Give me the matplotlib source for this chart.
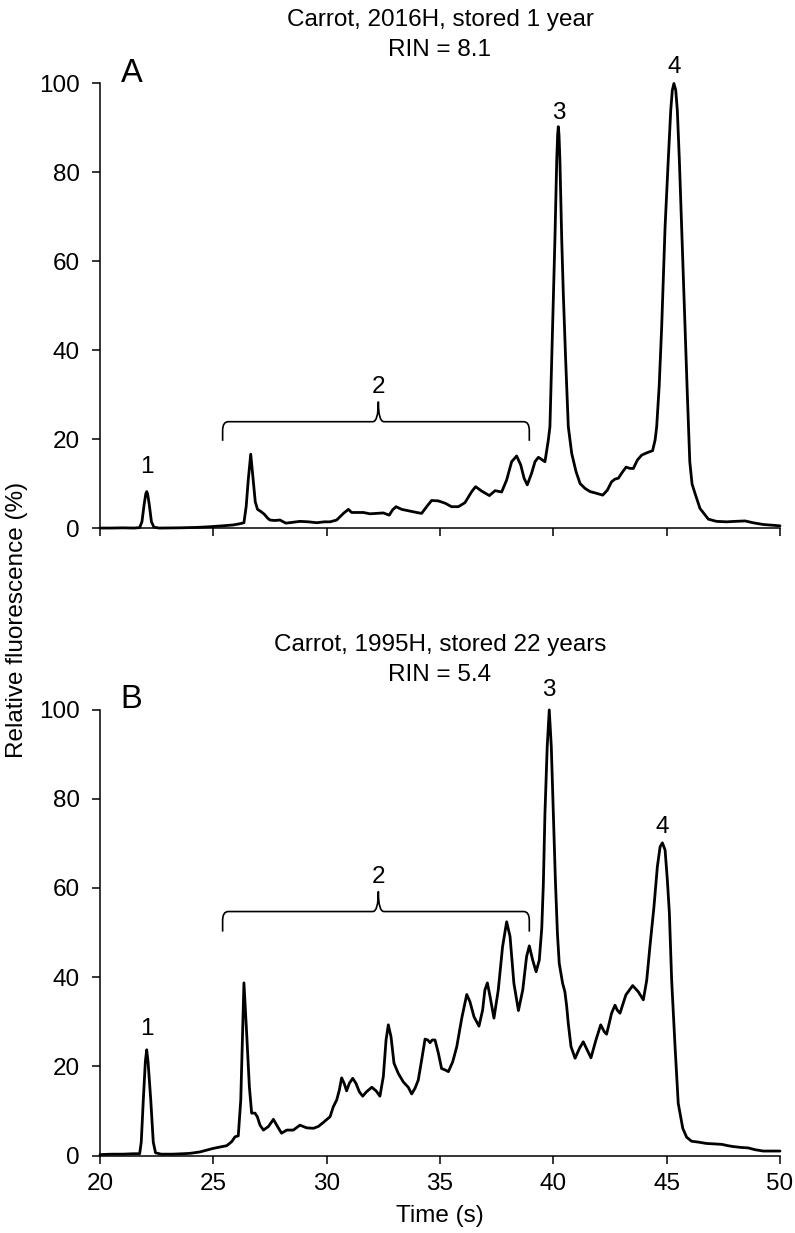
import matplotlib.pyplot as plt
from matplotlib.path import Path
from matplotlib.patches import PathPatch

plt.rcParams['font.family'] = ['Liberation Sans', 'DejaVu Sans']

# Panel A: carrot 2016H, stored 1 year (time in s, fluorescence in %)
time_a = [20.0, 20.5, 21.0, 21.5, 21.75, 21.85, 21.95, 22.02, 22.06, 22.1,
          22.17, 22.27, 22.38, 22.6, 23.5, 24.3, 24.85, 25.4, 25.88, 26.2,
          26.35, 26.45, 26.54, 26.65, 26.76, 26.85, 26.95, 27.1, 27.25, 27.4,
          27.5, 27.7, 27.94, 28.2, 28.5, 28.82, 29.2, 29.56, 29.9, 30.15,
          30.44, 30.74, 30.96, 31.1, 31.32, 31.62, 31.91, 32.21, 32.5, 32.76,
          32.91, 33.06, 33.31, 33.68, 33.97, 34.19, 34.41, 34.63, 34.93, 35.22,
          35.51, 35.81, 36.1, 36.4, 36.57, 36.84, 37.18, 37.43, 37.72, 37.94,
          38.16, 38.38, 38.56, 38.71, 38.85, 39.04, 39.19, 39.34, 39.49, 39.63,
          39.78, 39.85, 39.93, 40.0, 40.07, 40.15, 40.19, 40.22, 40.25, 40.29,
          40.37, 40.44, 40.54, 40.66, 40.81, 41.0, 41.18, 41.4, 41.62, 41.91,
          42.18, 42.38, 42.57, 42.72, 42.87, 43.01, 43.21, 43.38, 43.53, 43.71,
          43.9, 44.12, 44.38, 44.49, 44.56, 44.67, 44.78, 44.93, 45.07, 45.18,
          45.25, 45.32, 45.4, 45.47, 45.56, 45.66, 45.81, 45.91, 46.02, 46.12,
          46.25, 46.47, 46.84, 47.2, 47.65, 48.0, 48.46, 48.8, 49.26, 50.0]
signal_a = [0.1, 0.1, 0.15, 0.1, 0.2, 1.5, 5.5, 7.8, 8.3, 7.8,
            5.5, 1.5, 0.3, 0.1, 0.15, 0.25, 0.4, 0.6, 0.8, 1.1,
            1.3, 5.0, 10.9, 16.7, 10.9, 6.0, 4.3, 3.8, 3.2, 2.3,
            1.9, 1.8, 1.9, 1.2, 1.4, 1.6, 1.5, 1.3, 1.5, 1.5,
            1.9, 3.4, 4.3, 3.6, 3.6, 3.6, 3.3, 3.4, 3.5, 3.0,
            4.2, 4.9, 4.3, 3.9, 3.6, 3.4, 4.9, 6.3, 6.2, 5.7,
            4.9, 4.9, 5.8, 8.3, 9.4, 8.4, 7.4, 8.5, 8.2, 10.9,
            15.0, 16.3, 14.3, 11.3, 9.8, 12.4, 15.0, 16.0, 15.5, 15.0,
            19.9, 22.9, 38.4, 52.8, 65.0, 82.8, 88.5, 90.3, 88.5, 82.8,
            65.0, 52.8, 38.4, 22.9, 16.9, 12.8, 10.1, 9.0, 8.3, 7.9,
            7.5, 8.6, 10.5, 11.1, 11.3, 12.4, 13.8, 13.5, 13.5, 15.4,
            16.5, 17.0, 17.5, 19.9, 22.9, 32.0, 45.3, 67.8, 82.8, 94.0,
            98.5, 100.0, 98.5, 94.0, 82.8, 67.8, 45.3, 30.4, 15.0, 10.0,
            7.9, 4.5, 2.1, 1.6, 1.5, 1.6, 1.7, 1.3, 0.9, 0.6]

# Panel B: carrot 1995H, stored 22 years
time_b = [20.0, 20.5, 21.0, 21.5, 21.75, 21.82, 21.91, 22.0, 22.06, 22.12,
          22.24, 22.35, 22.45, 22.7, 23.2, 23.68, 24.0, 24.41, 24.7, 25.0,
          25.3, 25.59, 25.81, 25.96, 26.1, 26.21, 26.29, 26.35, 26.47, 26.59,
          26.69, 26.84, 26.94, 27.06, 27.21, 27.43, 27.65, 27.82, 28.01, 28.24,
          28.53, 28.82, 29.12, 29.41, 29.63, 29.85, 30.15, 30.29, 30.44, 30.56,
          30.66, 30.77, 30.88, 31.0, 31.15, 31.29, 31.44, 31.59, 31.76, 31.99,
          32.18, 32.35, 32.5, 32.62, 32.72, 32.84, 32.97, 33.16, 33.38, 33.6,
          33.75, 33.9, 34.04, 34.19, 34.34, 34.46, 34.56, 34.66, 34.78, 34.93,
          35.07, 35.22, 35.37, 35.56, 35.74, 35.96, 36.18, 36.32, 36.5, 36.72,
          36.88, 36.98, 37.09, 37.21, 37.38, 37.57, 37.76, 37.94, 38.09, 38.26,
          38.46, 38.65, 38.82, 38.94, 39.09, 39.24, 39.38, 39.49, 39.56, 39.63,
          39.73, 39.82, 39.91, 40.0, 40.09, 40.18, 40.26, 40.41, 40.51, 40.59,
          40.66, 40.78, 40.96, 41.15, 41.32, 41.5, 41.66, 41.88, 42.09, 42.24,
          42.35, 42.57, 42.72, 42.82, 42.94, 43.2, 43.5, 43.75, 43.97, 44.12,
          44.26, 44.44, 44.59, 44.71, 44.81, 44.93, 45.03, 45.12, 45.22, 45.37,
          45.51, 45.71, 45.88, 46.1, 46.4, 46.76, 47.1, 47.43, 47.7, 47.94,
          48.3, 48.6, 48.9, 49.26, 49.6, 50.0]
signal_b = [0.2, 0.3, 0.3, 0.4, 0.4, 3.0, 12.4, 21.0, 23.7, 21.0,
            12.4, 3.0, 0.6, 0.3, 0.3, 0.4, 0.5, 0.8, 1.2, 1.6,
            1.9, 2.2, 3.1, 4.2, 4.4, 12.4, 27.4, 38.7, 27.4, 15.4,
            9.5, 9.5, 8.7, 6.8, 5.7, 6.5, 8.1, 6.6, 5.0, 5.7,
            5.7, 6.8, 6.2, 6.1, 6.5, 7.4, 8.7, 10.9, 12.4, 14.7,
            17.4, 16.2, 14.5, 16.2, 17.3, 16.2, 14.3, 13.3, 14.3, 15.3,
            14.5, 13.3, 17.7, 25.9, 29.3, 26.6, 20.7, 18.4, 16.5, 15.3,
            13.8, 15.1, 16.9, 21.4, 26.1, 25.9, 25.3, 25.9, 25.9, 22.9,
            19.5, 19.2, 18.8, 21.0, 24.4, 30.8, 36.1, 34.5, 31.1, 29.0,
            32.6, 37.1, 38.7, 35.6, 30.8, 37.1, 46.8, 52.4, 49.1, 38.6,
            32.5, 37.1, 44.6, 47.0, 43.8, 41.2, 43.8, 51.0, 61.0, 76.7,
            91.7, 99.9, 91.7, 76.7, 61.8, 49.8, 43.1, 38.6, 36.7, 33.4,
            29.6, 24.4, 21.8, 24.0, 25.5, 23.6, 21.9, 25.9, 29.3, 27.8,
            27.2, 31.9, 33.7, 32.6, 31.9, 36.0, 38.1, 36.7, 34.9, 39.3,
            46.8, 55.8, 64.8, 69.2, 70.1, 68.5, 61.8, 54.3, 39.3, 24.4,
            11.7, 6.1, 4.1, 3.2, 3.0, 2.7, 2.6, 2.5, 2.2, 2.0,
            1.8, 1.7, 1.3, 1.0, 1.0, 1.0]

titles = [("Carrot, 2016H, stored 1 year", "RIN = 8.1"),
          ("Carrot, 1995H, stored 22 years", "RIN = 5.4")]
panel_letters = ["A", "B"]
peak_labels = ["1", "2", "3", "4"]
# label positions (time, %) for each panel
peak_pos_a = [(22.06, 13.8), (32.28, 31.9), (40.22, 93.3), (45.32, 103.6)]
peak_pos_b = [(22.06, 28.3), (32.28, 62.5), (39.82, 104.4), (44.81, 73.7)]
# bracket over region 2: (start, end, middle, end height, bar height, tip height)
bracket_a = (25.41, 38.94, 32.28, 19.7, 24.0, 28.5)
bracket_b = (25.41, 38.94, 32.28, 50.2, 54.7, 59.2)

FS = 17.5


def draw_bracket(ax, x0, x1, xm, y_end, y_bar, y_tip):
    rx, ry = 0.25, 2.0
    verts = [(x0, y_end), (x0, y_bar - ry), (x0, y_bar), (x0 + rx, y_bar),
             (xm - rx, y_bar), (xm, y_bar), (xm, y_tip),
             (xm, y_bar), (xm + rx, y_bar),
             (x1 - rx, y_bar), (x1, y_bar), (x1, y_bar - ry), (x1, y_end)]
    codes = [Path.MOVETO, Path.LINETO, Path.CURVE3, Path.CURVE3,
             Path.LINETO, Path.CURVE3, Path.CURVE3,
             Path.CURVE3, Path.CURVE3,
             Path.LINETO, Path.CURVE3, Path.CURVE3, Path.LINETO]
    ax.add_patch(PathPatch(Path(verts, codes), fill=False, lw=1.2,
                           edgecolor='black', clip_on=False))


fig = plt.figure(figsize=(7.95, 12.33), dpi=100)
ax_a = fig.add_axes([100 / 795, 1 - 528.5 / 1233, 680 / 795, 445 / 1233])
ax_b = fig.add_axes([100 / 795, 1 - 1155.5 / 1233, 680 / 795, 446 / 1233])

panels = [(ax_a, time_a, signal_a, peak_pos_a, bracket_a),
          (ax_b, time_b, signal_b, peak_pos_b, bracket_b)]

for i, (ax, t, s, pos, br) in enumerate(panels):
    ax.plot(t, s, color='black', lw=2.0, clip_on=False,
            solid_joinstyle='round', solid_capstyle='round')
    ax.set_xlim(20, 50)
    ax.set_ylim(0, 100)
    ax.set_xticks(range(20, 51, 5))
    ax.set_yticks(range(0, 101, 20))
    for side in ['top', 'right']:
        ax.spines[side].set_visible(False)
    for side in ['left', 'bottom']:
        ax.spines[side].set_linewidth(1.1)
    ax.tick_params(direction='out', length=5.5, width=1.1, labelsize=FS)
    ax.tick_params(axis='y', pad=9)
    ax.tick_params(axis='x', pad=7)
    ax.patch.set_alpha(0)

    for lab, (px, py) in zip(peak_labels, pos):
        ax.text(px, py, lab, ha='center', va='center', fontsize=FS)
    draw_bracket(ax, *br)
    ax.text(20.91, 100.3, panel_letters[i], fontsize=23.5, ha='left', va='baseline')

ax_a.set_xticklabels([])

# titles above each panel
fig.text(440 / 795, 1 - 26 / 1233, titles[0][0], ha='center', va='baseline', fontsize=FS)
fig.text(440 / 795, 1 - 56 / 1233, titles[0][1], ha='center', va='baseline', fontsize=FS)
fig.text(440 / 795, 1 - 651 / 1233, titles[1][0], ha='center', va='baseline', fontsize=FS)
fig.text(440 / 795, 1 - 681 / 1233, titles[1][1], ha='center', va='baseline', fontsize=FS)

fig.text(17 / 795, 1 - 620 / 1233, "Relative fluorescence (%)", rotation=90,
         ha='center', va='center', fontsize=FS)
fig.text(440 / 795, 1 - 1222 / 1233, "Time (s)", ha='center', va='baseline', fontsize=FS)

fig.savefig('out.png', dpi=100)
